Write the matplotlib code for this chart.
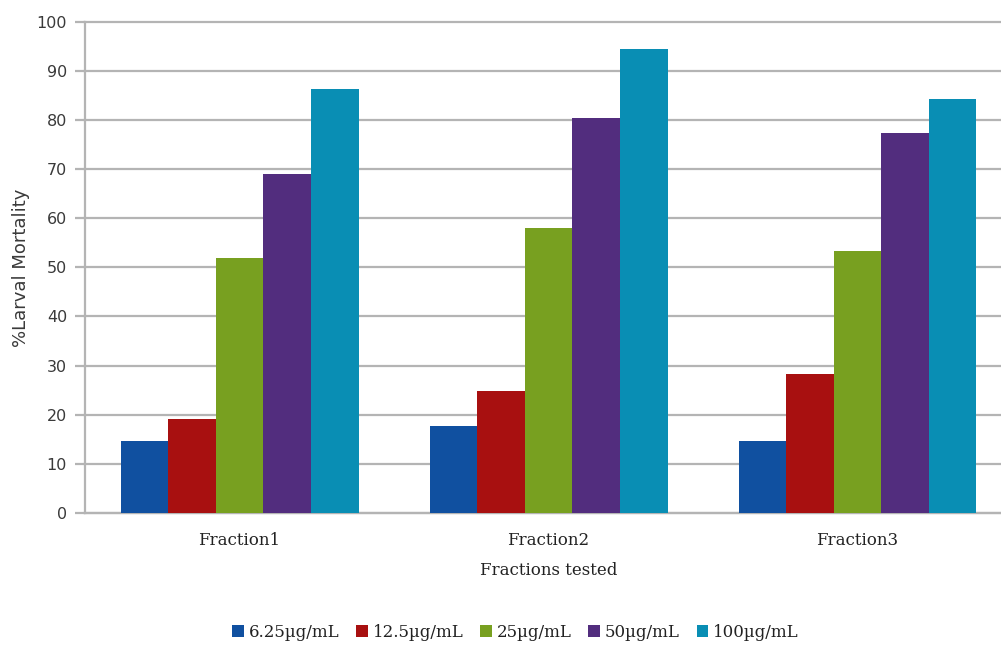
import numpy as np
import matplotlib.pyplot as plt

fractions = ['Fraction1', 'Fraction2', 'Fraction3']
doses = ['6.25µg/mL', '12.5µg/mL', '25µg/mL', '50µg/mL', '100µg/mL']
mortality = [
    [14.7, 17.7, 14.7],   # 6.25
    [19.1, 24.8, 28.3],   # 12.5
    [51.9, 58.0, 53.4],   # 25
    [69.0, 80.4, 77.4],   # 50
    [86.4, 94.5, 84.3],   # 100
]
colors = ['#1050a0', '#a81010', '#78a020', '#522d7e', '#098eb4']
grid_c = '#b4b4b4'

fig = plt.figure(figsize=(10.01, 6.45), dpi=100)
ax = fig.add_axes([0.085, 0.205, 0.926, 0.761])

x = np.arange(len(fractions))
w = 0.154
for i, (vals, c) in enumerate(zip(mortality, colors)):
    ax.bar(x + (i - 2) * w, vals, w, color=c, label=doses[i], zorder=3)

ax.set_xlim(-0.5, 2.5)
ax.set_ylim(0, 100)
ax.set_yticks(np.arange(0, 101, 10))
ax.yaxis.grid(True, color=grid_c, linewidth=1.6, zorder=0)
for gl in ax.get_ygridlines():
    gl.set_clip_on(False)
ax.set_xticks(x)
ax.set_xticklabels(fractions, family='DejaVu Serif', fontsize=12, color='#222222')
ax.tick_params(axis='x', length=0, pad=14)
ax.tick_params(axis='y', length=7, width=1.6, color=grid_c, labelsize=11.5,
               labelcolor='#3a3a3a', pad=6)
for s in ['top', 'right']:
    ax.spines[s].set_visible(False)
for s in ['left', 'bottom']:
    ax.spines[s].set_color(grid_c)
    ax.spines[s].set_linewidth(1.6)

ax.set_ylabel('%Larval Mortality', fontsize=13, color='#3a3a3a', labelpad=5)
ax.set_xlabel('Fractions tested', family='DejaVu Serif', fontsize=12,
              color='#222222', labelpad=9)

fig.legend(loc='center', bbox_to_anchor=(0.515, 0.02), ncol=5, frameon=False,
           prop={'family': 'DejaVu Serif', 'size': 12}, labelcolor='#222222',
           handlelength=0.7, handleheight=0.7, handletextpad=0.3, columnspacing=1.0)

fig.savefig('out.png', dpi=100)
